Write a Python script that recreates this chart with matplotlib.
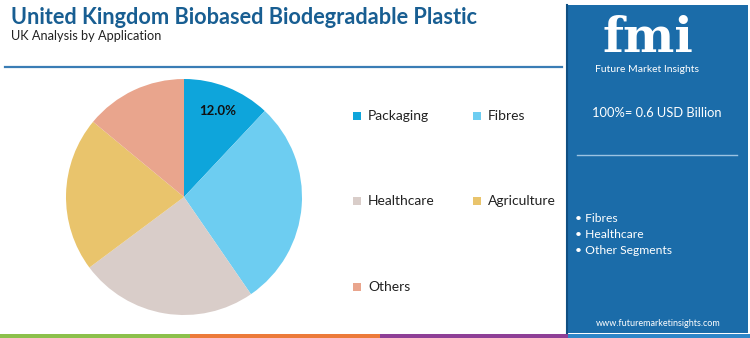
import numpy as np
import matplotlib
matplotlib.use("Agg")
import matplotlib.pyplot as plt
from matplotlib.patches import Rectangle

# ---------------------------------------------------------------------------
# Data
# ---------------------------------------------------------------------------
segments = ["Packaging", "Fibres", "Healthcare", "Agriculture", "Others"]
shares = [12.0, 28.4, 24.4, 21.2, 14.0]
seg_colors = ["#0ea5db", "#6dcdf1", "#d9cdc9", "#e9c46c", "#e9a58d"]

title = "United Kingdom Biobased Biodegradable Plastic"
subtitle = "UK Analysis by Application"
total_text = "100%= 0.6 USD Billion"
bullets = ["Fibres", "Healthcare", "Other Segments"]
url = "www.futuremarketinsights.com"

W, H = 750, 338
PANEL = "#1b6ca9"
TITLE_COL = "#185e92"
plt.rcParams["font.family"] = ["Lato", "DejaVu Sans"]


def fx(px):
    return px / W


def fy(py):
    return 1 - py / H


fig = plt.figure(figsize=(W / 100, H / 100), dpi=100, facecolor="white")

# --- Header ---
fig.text(fx(11), fy(17), title, fontsize=15.7, fontweight="bold",
         color=TITLE_COL, va="center", ha="left")
fig.text(fx(11), fy(36), subtitle, fontsize=9.2, color="#222222",
         va="center", ha="left")
fig.add_artist(plt.Line2D([fx(5), fx(562)], [fy(67), fy(67)],
                          color="#3a7db5", lw=1.6, transform=fig.transFigure))

# --- Bottom stripe ---
stripe = [("#8cc04b", 0, 190), ("#ec7a3a", 190, 380),
          ("#8e3f96", 380, 568), ("#2e86c8", 568, 750)]
for col, x0, x1 in stripe:
    fig.add_artist(Rectangle((fx(x0), 0), fx(x1 - x0), 4 / H,
                             color=col, transform=fig.transFigure, lw=0))

# --- Pie ---
cx, cy, r = 184, 197, 118
ax = fig.add_axes([fx(cx - r), fy(cy + r), fx(2 * r), 2 * r / H])
wedges, texts, autotexts = ax.pie(
    shares, colors=seg_colors, startangle=90, counterclock=False,
    autopct="%1.1f%%", pctdistance=0.78, radius=1,
    wedgeprops=dict(linewidth=0),
    textprops=dict(fontsize=9.5, fontweight="bold", color="#111111"))
for i, t in enumerate(autotexts):
    if i != 0:
        t.set_text("")
ax.set_xlim(-1, 1)
ax.set_ylim(-1, 1)
ax.set_aspect("equal")
ax.axis("off")

# --- Legend ---
leg_pos = [(357, 116), (477, 116), (357, 201), (477, 201), (357, 287)]
for (lx, ly), name, col in zip(leg_pos, segments, seg_colors):
    fig.add_artist(Rectangle((fx(lx - 4), fy(ly + 4)), 8 / W, 8 / H,
                             color=col, transform=fig.transFigure, lw=0))
    fig.text(fx(lx + 11), fy(ly), name, fontsize=10, color="#222222",
             va="center", ha="left")

# --- Right panel ---
fig.add_artist(Rectangle((fx(567), fy(333)), fx(748 - 567), 328 / H,
                         color=PANEL, transform=fig.transFigure, lw=0))
fig.add_artist(plt.Line2D([fx(567), fx(567)], [fy(333), fy(5)],
                          color="#0f4f82", lw=1.5, transform=fig.transFigure))

# logo
fig.text(fx(648), fy(38), "fmi", fontsize=35, fontweight="bold",
         family=["DejaVu Serif"], color="white", ha="center", va="center")
for yy in np.arange(22, 56, 4.5):
    fig.add_artist(plt.Line2D([fx(590), fx(712)], [fy(yy), fy(yy)],
                              color=PANEL, lw=0.9, transform=fig.transFigure))
fig.text(fx(647), fy(70), "Future Market Insights", fontsize=7.5,
         color="white", ha="center", va="center")

fig.text(fx(657), fy(113), total_text, fontsize=9.3, color="white",
         ha="center", va="center")
fig.add_artist(plt.Line2D([fx(577), fx(737)], [fy(155), fy(155)],
                          color="#9cc3e2", lw=1.0, transform=fig.transFigure))
for i, b in enumerate(bullets):
    fig.text(fx(575), fy(219 + 16 * i), "\u2022 " + b, fontsize=8.7,
             color="white", ha="left", va="center")
fig.text(fx(658), fy(323), url, fontsize=6.5, color="white",
         ha="center", va="center")

fig.savefig("out.png", dpi=100, facecolor="white")
